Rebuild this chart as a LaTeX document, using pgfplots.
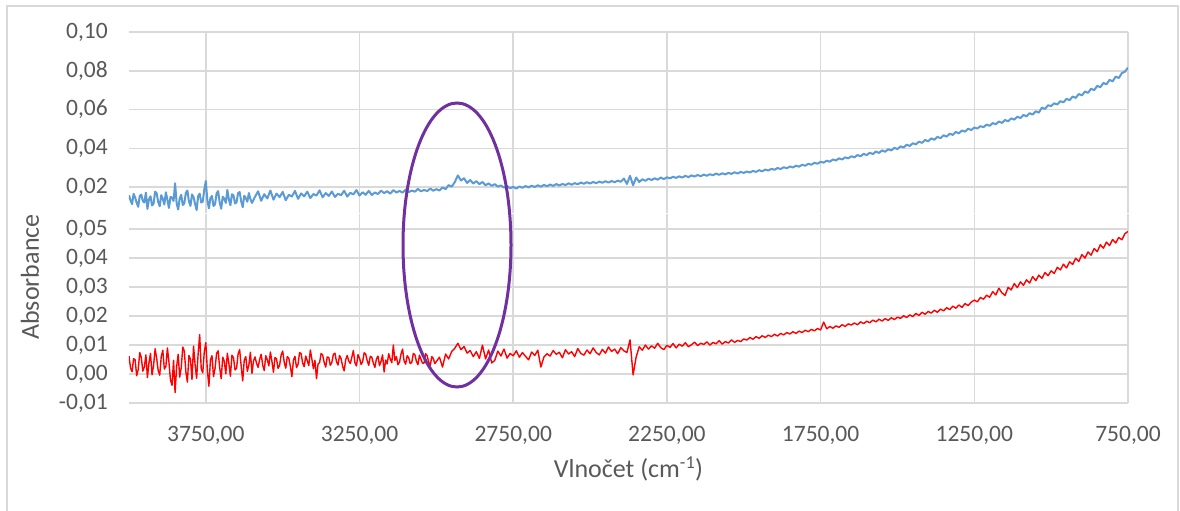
\documentclass[border=0pt]{standalone}
\usepackage{pgfplots}
\pgfplotsset{compat=1.18}
\usepackage{fontspec}
\setmainfont{Carlito}
\definecolor{gridgray}{HTML}{D9D9D9}
\definecolor{labgray}{HTML}{595959}
\definecolor{blueline}{HTML}{5B9BD5}
\definecolor{purp}{HTML}{7030A0}
\begin{document}
\begin{tikzpicture}
\useasboundingbox (0,0) rectangle (1180bp,511bp);
\fill[white] (0,0) rectangle (1180bp,511bp);
\draw[gridgray, line width=1.5bp] (7bp,-2bp) -- (7bp,505bp) -- (1178bp,505bp) -- (1178bp,-2bp);
\pgfplotsset{
  myaxis/.style={
    scale only axis, width=999bp, anchor=south west,
    xmin=750, xmax=4000, x dir=reverse,
    xtick={750,1250,1750,2250,2750,3250,3750},
    scaled x ticks=false, scaled y ticks=false,
    grid=major, major grid style={gridgray, line width=1.5bp},
    axis line style={draw=none}, major tick length=0pt,
    tick label style={font=\fontsize{23.5bp}{28bp}\selectfont, text=labgray},
    yticklabel style={anchor=east, inner sep=0pt, xshift=-21bp},
    xticklabel style={anchor=north, inner sep=0pt, yshift=-23bp},
  }
}
\begin{axis}[myaxis, height=181bp, at={(129bp,298bp)},
  ymin=0.0066, ymax=0.10,
  ytick={0.02,0.04,0.06,0.08,0.10},
  yticklabels={{0,02},{0,04},{0,06},{0,08},{0,10}},
  xticklabels={{},{},{},{},{},{},{}}]
\addplot[blueline, line width=2bp, line join=round] coordinates {
(4000,0.0158)(3995,0.0131)(3990,0.0112)(3985,0.0165)(3980,0.0146)(3975,0.0119)(3970,0.0098)(3965,0.0154)(3960,0.0161)(3955,0.0128)(3950,0.0120)(3945,0.0171)(3940,0.0087)(3935,0.0137)(3930,0.0152)(3925,0.0105)(3920,0.0114)(3915,0.0176)(3910,0.0168)(3905,0.0123)(3900,0.0101)(3895,0.0158)(3890,0.0139)(3885,0.0110)(3880,0.0173)(3875,0.0134)(3870,0.0092)(3865,0.0149)(3860,0.0145)(3855,0.0128)(3850,0.0219)(3845,0.0117)(3840,0.0084)(3835,0.0141)(3830,0.0160)(3825,0.0107)(3820,0.0116)(3815,0.0170)(3810,0.0182)(3805,0.0126)(3800,0.0103)(3795,0.0162)(3790,0.0148)(3785,0.0113)(3780,0.0081)(3775,0.0153)(3770,0.0166)(3765,0.0120)(3760,0.0125)(3755,0.0187)(3750,0.0231)(3745,0.0130)(3740,0.0090)(3735,0.0144)(3730,0.0154)(3725,0.0102)(3720,0.0111)(3715,0.0167)(3710,0.0179)(3705,0.0121)(3700,0.0088)(3695,0.0150)(3690,0.0140)(3685,0.0118)(3680,0.0185)(3675,0.0136)(3670,0.0106)(3665,0.0163)(3660,0.0157)(3655,0.0115)(3650,0.0122)(3645,0.0169)(3640,0.0174)(3635,0.0127)(3630,0.0096)(3625,0.0155)(3620,0.0143)(3615,0.0124)(3610,0.0169)(3605,0.0138)(3600,0.0118)
(3590,0.0150)(3580,0.0178)(3570,0.0129)(3560,0.0163)(3550,0.0141)(3540,0.0182)(3530,0.0135)(3520,0.0166)(3510,0.0148)(3500,0.0175)(3490,0.0132)(3480,0.0160)(3470,0.0151)(3460,0.0180)(3450,0.0139)(3440,0.0167)(3430,0.0152)(3420,0.0176)(3410,0.0143)(3400,0.0164)(3390,0.0156)(3380,0.0183)(3370,0.0147)(3360,0.0169)(3350,0.0154)(3340,0.0177)(3330,0.0149)(3320,0.0165)(3310,0.0158)(3300,0.0181)(3290,0.0151)(3280,0.0170)(3270,0.0162)(3260,0.0184)(3250,0.0156)(3240,0.0173)(3230,0.0160)(3220,0.0180)(3210,0.0159)(3200,0.0172)
(3190,0.0164)(3180,0.0181)(3170,0.0169)(3160,0.0178)(3150,0.0166)(3140,0.0184)(3130,0.0172)(3120,0.0180)(3110,0.0171)(3100,0.0186)(3090,0.0174)(3080,0.0182)(3070,0.0176)(3060,0.0190)(3050,0.0178)(3040,0.0185)(3030,0.0179)(3020,0.0192)(3010,0.0181)(3000,0.0189)
(2990,0.0182)(2980,0.0198)(2970,0.0189)(2960,0.0210)(2950,0.0202)(2940,0.0226)(2930,0.0260)(2920,0.0234)(2910,0.0245)(2900,0.0221)(2890,0.0236)(2880,0.0218)(2870,0.0230)(2860,0.0215)(2850,0.0226)(2840,0.0209)(2830,0.0219)(2820,0.0206)(2810,0.0215)(2800,0.0202)(2790,0.0208)(2780,0.0197)(2770,0.0205)(2760,0.0194)(2750,0.0201)
(2740,0.0192)(2730,0.0203)(2720,0.0196)(2710,0.0205)(2700,0.0198)(2690,0.0207)(2680,0.0200)(2670,0.0209)(2660,0.0202)(2650,0.0211)(2640,0.0204)(2630,0.0213)(2620,0.0206)(2610,0.0215)(2600,0.0208)(2590,0.0216)(2580,0.0210)(2570,0.0219)(2560,0.0212)(2550,0.0220)(2540,0.0214)(2530,0.0223)(2520,0.0217)(2510,0.0225)(2500,0.0218)(2490,0.0226)(2480,0.0220)(2470,0.0228)(2460,0.0222)(2450,0.0230)(2440,0.0223)(2430,0.0231)(2420,0.0225)(2410,0.0233)(2400,0.0227)(2390,0.0244)(2380,0.0216)(2370,0.0258)(2360,0.0209)(2350,0.0249)(2340,0.0226)(2330,0.0240)(2320,0.0232)(2310,0.0243)(2300,0.0236)(2290,0.0245)(2280,0.0238)(2270,0.0249)(2260,0.0241)(2250,0.0250)
(2240,0.0245)(2230,0.0253)(2220,0.0247)(2210,0.0255)(2200,0.0249)(2190,0.0258)(2180,0.0251)(2170,0.0260)(2160,0.0254)(2150,0.0262)(2140,0.0256)(2130,0.0264)(2120,0.0258)(2110,0.0266)(2100,0.0261)(2090,0.0269)(2080,0.0263)(2070,0.0271)(2060,0.0265)(2050,0.0273)(2040,0.0268)(2030,0.0276)(2020,0.0270)(2010,0.0278)(2000,0.0273)
(1990,0.0280)(1980,0.0275)(1970,0.0283)(1960,0.0278)(1950,0.0287)(1940,0.0281)(1930,0.0290)(1920,0.0285)(1910,0.0294)(1900,0.0289)(1890,0.0298)(1880,0.0293)(1870,0.0302)(1860,0.0297)(1850,0.0306)(1840,0.0301)(1830,0.0310)(1820,0.0305)(1810,0.0315)(1800,0.0310)(1790,0.0320)(1780,0.0315)(1770,0.0325)(1760,0.0320)(1750,0.0330)
(1740,0.0326)(1730,0.0336)(1720,0.0331)(1710,0.0342)(1700,0.0337)(1690,0.0348)(1680,0.0342)(1670,0.0353)(1660,0.0348)(1650,0.0359)(1640,0.0353)(1630,0.0365)(1620,0.0359)(1610,0.0371)(1600,0.0365)(1590,0.0377)(1580,0.0370)(1570,0.0383)(1560,0.0376)(1550,0.0389)(1540,0.0382)(1530,0.0395)(1520,0.0389)(1510,0.0402)(1500,0.0396)
(1490,0.0410)(1480,0.0404)(1470,0.0418)(1460,0.0412)(1450,0.0426)(1440,0.0420)(1430,0.0434)(1420,0.0428)(1410,0.0443)(1400,0.0436)(1390,0.0451)(1380,0.0444)(1370,0.0459)(1360,0.0452)(1350,0.0467)(1340,0.0460)(1330,0.0475)(1320,0.0469)(1310,0.0484)(1300,0.0477)(1290,0.0492)(1280,0.0486)(1270,0.0501)(1260,0.0494)(1250,0.0507)
(1240,0.0502)(1230,0.0514)(1220,0.0509)(1210,0.0522)(1200,0.0516)(1190,0.0530)(1180,0.0524)(1170,0.0538)(1160,0.0531)(1150,0.0546)(1140,0.0539)(1130,0.0554)(1120,0.0548)(1110,0.0563)(1100,0.0556)(1090,0.0572)(1080,0.0565)(1070,0.0581)(1060,0.0574)(1050,0.0591)(1040,0.0584)(1030,0.0610)(1020,0.0603)(1010,0.0622)(1000,0.0618)
(990,0.0632)(980,0.0626)(970,0.0643)(960,0.0637)(950,0.0655)(940,0.0648)(930,0.0667)(920,0.0660)(910,0.0680)(900,0.0673)(890,0.0693)(880,0.0686)(870,0.0707)(860,0.0700)(850,0.0722)(840,0.0715)(830,0.0737)(820,0.0730)(810,0.0753)(800,0.0745)(790,0.0770)(780,0.0762)(770,0.0788)(760,0.0795)(750,0.0816)
};
\end{axis}
\begin{axis}[myaxis, height=189bp, at={(129bp,108bp)},
  ymin=-0.01, ymax=0.0552,
  ytick={-0.01,0,0.01,0.02,0.03,0.04,0.05},
  yticklabels={{-0,01},{0,00},{0,01},{0,02},{0,03},{0,04},{0,05}},
  xticklabels={{750,00},{1250,00},{1750,00},{2250,00},{2750,00},{3250,00},{3750,00}},
  xlabel={Vlnočet (cm\textsuperscript{-1})},
  xlabel style={at={(axis description cs:0.5,0)}, anchor=center, yshift=-66bp,
    font=\fontsize{26bp}{30bp}\selectfont, text=labgray, inner sep=0pt}]
\addplot[red, line width=1.4bp, line join=round] coordinates {
(4000,0.0062)(3995,0.0021)(3990,0.0008)(3985,0.0053)(3980,0.0049)(3975,-0.0006)(3970,0.0015)(3965,0.0074)(3960,0.0058)(3955,0.0010)(3950,0.0024)(3945,0.0066)(3940,-0.0012)(3935,0.0039)(3930,0.0071)(3925,-0.0003)(3920,0.0030)(3915,0.0087)(3910,0.0055)(3905,0.0012)(3900,-0.0004)(3895,0.0061)(3890,0.0082)(3885,0.0017)(3880,0.0026)(3875,0.0090)(3870,0.0041)(3865,-0.0021)(3860,-0.0039)(3855,0.0047)(3850,-0.0064)(3845,0.0025)(3840,0.0068)(3835,-0.0011)(3830,0.0022)(3825,0.0093)(3820,0.0079)(3815,0.0008)(3810,-0.0028)(3805,0.0064)(3800,0.0051)(3795,-0.0019)(3790,0.0096)(3785,0.0033)(3780,-0.0015)(3775,0.0070)(3770,0.0136)(3765,0.0018)(3760,0.0004)(3755,0.0077)(3750,0.0108)(3745,0.0012)(3740,-0.0042)(3735,0.0049)(3730,0.0063)(3725,-0.0009)(3720,0.0019)(3715,0.0071)(3710,0.0080)(3705,0.0022)(3700,-0.0016)(3695,0.0058)(3690,0.0044)(3685,0.0001)(3680,0.0072)(3675,0.0036)(3670,-0.0008)(3665,0.0065)(3660,0.0056)(3655,0.0014)(3650,0.0020)(3645,0.0069)(3640,0.0084)(3635,0.0027)(3630,-0.0024)(3625,0.0048)(3620,0.0060)(3615,0.0009)(3610,0.0031)(3605,0.0075)(3600,0.0002)
(3595,0.0045)(3590,0.0059)(3585,0.0037)(3580,0.0023)(3575,0.0050)(3570,0.0068)(3565,0.0031)(3560,0.0012)(3555,0.0063)(3550,0.0049)(3545,0.0028)(3540,0.0076)(3535,0.0044)(3530,0.0006)(3525,0.0057)(3520,0.0052)(3515,0.0019)(3510,0.0030)(3505,0.0066)(3500,0.0079)(3495,0.0041)(3490,0.0020)(3485,0.0060)(3480,0.0054)(3475,0.0026)(3470,-0.0009)(3465,0.0048)(3460,0.0061)(3455,0.0022)(3450,0.0033)(3445,0.0074)(3440,0.0070)(3435,0.0038)(3430,0.0025)(3425,0.0062)(3420,0.0046)(3415,0.0029)(3410,0.0083)(3405,0.0051)(3400,0.0018)(3395,0.0047)(3390,-0.0016)(3385,0.0034)(3380,0.0039)(3375,0.0071)(3370,0.0066)(3365,0.0040)(3360,0.0024)(3355,0.0059)(3350,0.0057)(3345,0.0030)(3340,0.0040)(3335,0.0068)(3330,0.0072)(3325,0.0043)(3320,0.0031)(3315,0.0064)(3310,0.0053)(3305,0.0027)(3300,0.0011)(3295,0.0049)(3290,0.0064)(3285,0.0045)(3280,0.0036)(3275,0.0058)(3270,0.0081)(3265,0.0039)(3260,0.0028)(3255,0.0067)(3250,0.0055)(3245,0.0033)(3240,0.0042)(3235,0.0073)(3230,0.0069)(3225,0.0046)(3220,0.0030)(3215,0.0061)(3210,0.0058)(3205,0.0037)(3200,0.0023)(3195,0.0052)(3190,0.0062)(3185,0.0029)(3180,0.0044)(3175,0.0066)(3170,0.0007)(3165,0.0048)(3160,0.0035)(3155,0.0070)(3150,0.0051)(3145,0.0039)(3140,0.0100)(3135,0.0047)(3130,0.0060)(3125,0.0032)(3120,0.0041)(3115,0.0069)(3110,0.0086)(3105,0.0045)(3100,0.0034)(3095,0.0063)(3090,0.0056)(3085,0.0036)(3080,0.0040)(3075,0.0071)(3070,0.0067)(3065,0.0044)(3060,0.0032)(3055,0.0065)(3050,0.0050)(3045,0.0037)(3040,0.0038)(3035,0.0070)(3030,0.0063)(3025,0.0041)(3020,0.0029)(3015,0.0060)(3010,0.0054)(3005,0.0036)(3000,0.0043)
(2990,0.0058)(2980,0.0024)(2970,0.0069)(2960,0.0052)(2950,0.0078)(2940,0.0089)(2930,0.0106)(2920,0.0084)(2910,0.0095)(2900,0.0072)(2890,0.0081)(2880,0.0060)(2870,0.0077)(2860,0.0054)(2850,0.0100)
(2840,0.0052)(2830,0.0083)(2820,0.0038)(2810,0.0047)(2800,0.0079)(2790,0.0062)(2780,0.0086)(2770,0.0055)(2760,0.0071)(2750,0.0063)(2740,0.0080)(2730,0.0058)(2720,0.0074)(2710,0.0061)(2700,0.0049)(2690,0.0076)(2680,0.0064)(2670,0.0082)(2660,0.0024)(2650,0.0059)(2640,0.0070)(2630,0.0062)(2620,0.0081)(2610,0.0068)(2600,0.0075)(2590,0.0056)(2580,0.0084)(2570,0.0069)(2560,0.0077)(2550,0.0060)(2540,0.0088)(2530,0.0071)(2520,0.0065)(2510,0.0083)(2500,0.0070)(2490,0.0090)(2480,0.0074)(2470,0.0066)(2460,0.0085)(2450,0.0072)(2440,0.0093)(2430,0.0078)(2420,0.0086)(2410,0.0070)(2400,0.0091)(2390,0.0080)(2380,0.0074)
(2370,0.0118)(2360,-0.0003)(2350,0.0059)(2340,0.0094)(2330,0.0082)(2320,0.0100)(2310,0.0086)(2300,0.0097)(2290,0.0089)(2280,0.0106)(2270,0.0091)(2260,0.0084)(2250,0.0099)(2240,0.0092)(2230,0.0105)(2220,0.0090)(2210,0.0103)(2200,0.0096)(2190,0.0108)(2180,0.0094)(2170,0.0101)(2160,0.0110)(2150,0.0098)(2140,0.0106)(2130,0.0102)(2120,0.0111)(2110,0.0100)(2100,0.0109)(2090,0.0104)(2080,0.0115)(2070,0.0103)(2060,0.0112)(2050,0.0107)(2040,0.0118)(2030,0.0109)(2020,0.0116)(2010,0.0112)(2000,0.0121)
(1990,0.0117)(1980,0.0126)(1970,0.0120)(1960,0.0129)(1950,0.0123)(1940,0.0132)(1930,0.0126)(1920,0.0134)(1910,0.0129)(1900,0.0137)(1890,0.0131)(1880,0.0140)(1870,0.0135)(1860,0.0143)(1850,0.0138)(1840,0.0146)(1830,0.0140)(1820,0.0148)(1810,0.0143)(1800,0.0151)(1790,0.0146)(1780,0.0154)(1770,0.0149)(1760,0.0157)(1750,0.0152)
(1740,0.0179)(1730,0.0156)(1720,0.0164)(1710,0.0158)(1700,0.0166)(1690,0.0161)(1680,0.0170)(1670,0.0164)(1660,0.0173)(1650,0.0169)(1640,0.0176)(1630,0.0170)(1620,0.0180)(1610,0.0174)(1600,0.0182)(1590,0.0177)(1580,0.0186)(1570,0.0180)(1560,0.0189)(1550,0.0183)(1540,0.0191)(1530,0.0185)(1520,0.0194)(1510,0.0188)(1500,0.0196)
(1490,0.0192)(1480,0.0201)(1470,0.0195)(1460,0.0204)(1450,0.0198)(1440,0.0209)(1430,0.0202)(1420,0.0213)(1410,0.0206)(1400,0.0216)(1390,0.0210)(1380,0.0220)(1370,0.0213)(1360,0.0224)(1350,0.0218)(1340,0.0229)(1330,0.0222)(1320,0.0234)(1310,0.0227)(1300,0.0238)(1290,0.0230)(1280,0.0243)(1270,0.0236)(1260,0.0248)(1250,0.0255)
(1240,0.0249)(1230,0.0264)(1220,0.0258)(1210,0.0272)(1200,0.0265)(1190,0.0284)(1180,0.0273)(1170,0.0296)(1160,0.0280)(1150,0.0271)(1140,0.0299)(1130,0.0290)(1120,0.0312)(1110,0.0298)(1100,0.0318)(1090,0.0306)(1080,0.0325)(1070,0.0314)(1060,0.0336)(1050,0.0322)(1040,0.0341)(1030,0.0330)(1020,0.0350)(1010,0.0339)(1000,0.0356)
(990,0.0347)(980,0.0368)(970,0.0359)(960,0.0379)(950,0.0366)(940,0.0387)(930,0.0378)(920,0.0399)(910,0.0388)(900,0.0412)(890,0.0400)(880,0.0421)(870,0.0410)(860,0.0433)(850,0.0422)(840,0.0446)(830,0.0434)(820,0.0455)(810,0.0443)(800,0.0464)(790,0.0452)(780,0.0471)(770,0.0463)(760,0.0484)(750,0.0492)
};
\end{axis}
\node[rotate=90, text=labgray, font=\fontsize{26bp}{30bp}\selectfont, inner sep=0pt] at (30bp,234bp) {Absorbance};
\draw[purp, line width=3bp] (457bp,266bp) ellipse [x radius=54bp, y radius=142bp];
\end{tikzpicture}
\end{document}
